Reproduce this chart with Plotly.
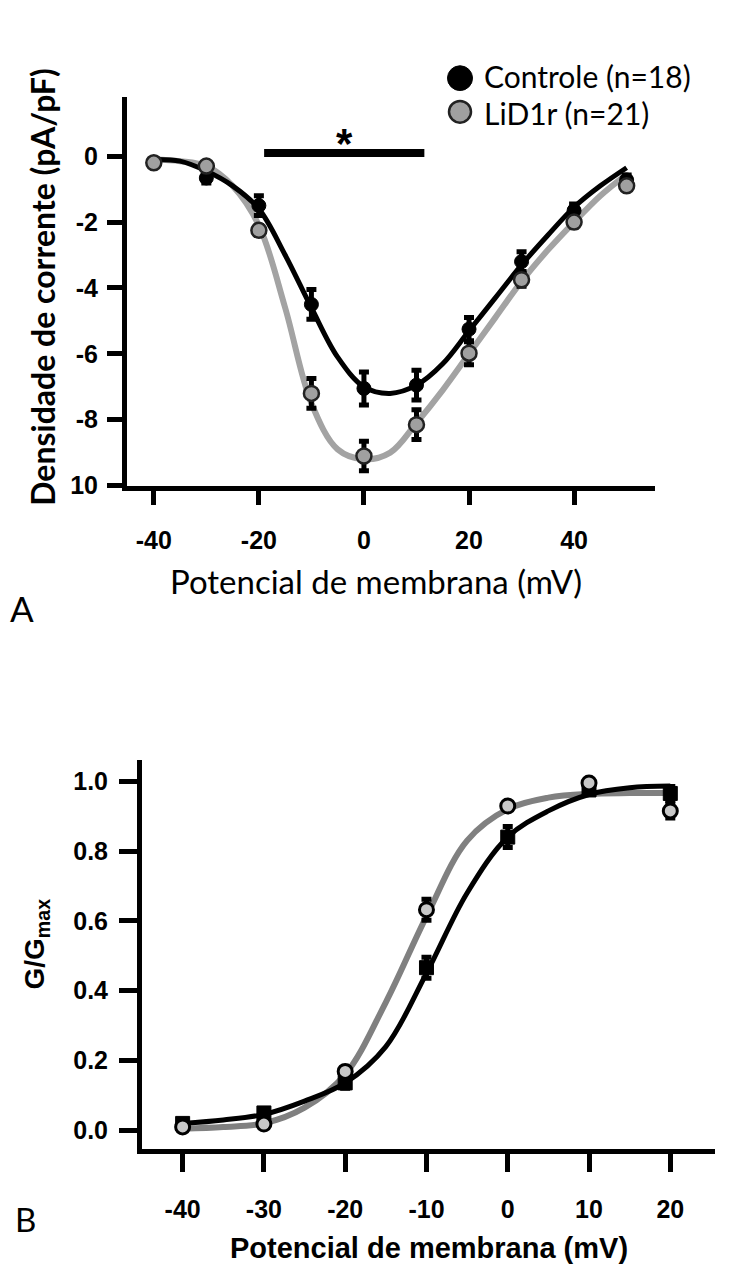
import plotly.graph_objects as go

W, H = 732, 1276

# ---------------- Panel A data (I-V) ----------------
voltage_A = [-40, -30, -20, -10, 0, 10, 20, 30, 40, 50]
ctrl_A = [-0.2, -0.66, -1.5, -4.5, -7.05, -6.95, -5.25, -3.2, -1.65, -0.72]
ctrl_A_err = [0.1, 0.15, 0.3, 0.45, 0.5, 0.45, 0.35, 0.3, 0.2, 0.15]
lid_A = [-0.2, -0.3, -2.25, -7.2, -9.1, -8.15, -5.98, -3.75, -2.0, -0.9]
lid_A_err = [0.05, 0.1, 0.15, 0.45, 0.45, 0.45, 0.35, 0.2, 0.15, 0.1]

fit_v_A = [-40, -35, -30, -25, -20, -15, -10, -5, 0, 5, 10, 15, 20, 25, 30, 35, 40, 45, 50]
ctrl_fit_A = [-0.1, -0.15, -0.45, -0.9, -1.6, -3.0, -4.6, -6.1, -7.0, -7.2, -6.95, -6.3,
              -5.3, -4.3, -3.3, -2.4, -1.55, -0.9, -0.35]
lid_fit_A = [-0.1, -0.15, -0.3, -0.9, -2.1, -4.6, -7.5, -8.9, -9.2, -9.0, -8.1, -7.1,
             -6.0, -4.9, -3.8, -2.85, -2.0, -1.2, -0.55]

xticks_A = [-40, -20, 0, 20, 40]
xticktext_A = ["-40", "-20", "0", "20", "40"]
yticks_A = [0, -2, -4, -6, -8, -10]
yticktext_A = ["0", "-2", "-4", "-6", "-8", "10"]
sig_span = [-19, 11.5]

# ---------------- Panel B data (G/Gmax) ----------------
voltage_B = [-40, -30, -20, -10, 0, 10, 20]
ctrl_B = [0.02, 0.05, 0.136, 0.466, 0.84, 0.975, 0.965]
ctrl_B_err = [0.01, 0.01, 0.015, 0.03, 0.03, 0.01, 0.02]
lid_B = [0.01, 0.018, 0.169, 0.632, 0.929, 0.995, 0.915]
lid_B_err = [0.005, 0.01, 0.01, 0.03, 0.01, 0.01, 0.02]

fit_v_B = [-40, -35, -30, -25, -20, -15, -10, -5, 0, 5, 10, 15, 20]
ctrl_fit_B = [0.02, 0.03, 0.046, 0.084, 0.136, 0.24, 0.45, 0.68, 0.84, 0.915, 0.962, 0.981, 0.986]
lid_fit_B = [0.005, 0.01, 0.02, 0.065, 0.16, 0.367, 0.613, 0.83, 0.92, 0.953, 0.964, 0.966, 0.966]

xticks_B = [-40, -30, -20, -10, 0, 10, 20]
xticktext_B = ["-40", "-30", "-20", "-10", "0", "10", "20"]
yticks_B = [0.0, 0.2, 0.4, 0.6, 0.8, 1.0]
yticktext_B = ["0.0", "0.2", "0.4", "0.6", "0.8", "1.0"]


def px(x):
    return x / W


def py(y):
    return 1 - y / H


CAL = "Lato"
ARIALB = dict(family="Liberation Sans", size=25, color="black", weight=700)

fig = go.Figure()

# ---- Panel A traces ----
fig.add_trace(go.Scatter(x=fit_v_A, y=lid_fit_A, mode="lines", line=dict(color="#a3a3a3", width=6, shape="spline"),
                         xaxis="x", yaxis="y", hoverinfo="skip"))
fig.add_trace(go.Scatter(x=fit_v_A, y=ctrl_fit_A, mode="lines", line=dict(color="black", width=5, shape="spline"),
                         xaxis="x", yaxis="y", hoverinfo="skip"))
fig.add_trace(go.Scatter(x=voltage_A, y=ctrl_A, mode="markers",
                         marker=dict(color="black", size=14, line=dict(color="black", width=1)),
                         error_y=dict(type="data", array=ctrl_A_err, color="black", thickness=5, width=5),
                         xaxis="x", yaxis="y"))
fig.add_trace(go.Scatter(x=voltage_A, y=lid_A, mode="markers",
                         marker=dict(color="#a0a0a0", size=15, line=dict(color="#222", width=2.5)),
                         error_y=dict(type="data", array=lid_A_err, color="black", thickness=5, width=5),
                         xaxis="x", yaxis="y"))

# ---- Panel B traces ----
fig.add_trace(go.Scatter(x=fit_v_B, y=lid_fit_B, mode="lines", line=dict(color="#808080", width=6, shape="spline"),
                         xaxis="x2", yaxis="y2", hoverinfo="skip"))
fig.add_trace(go.Scatter(x=fit_v_B, y=ctrl_fit_B, mode="lines", line=dict(color="black", width=5, shape="spline"),
                         xaxis="x2", yaxis="y2", hoverinfo="skip"))
fig.add_trace(go.Scatter(x=voltage_B, y=ctrl_B, mode="markers",
                         marker=dict(color="black", size=14, symbol="square", line=dict(color="black", width=1)),
                         error_y=dict(type="data", array=ctrl_B_err, color="black", thickness=5, width=5),
                         xaxis="x2", yaxis="y2"))
fig.add_trace(go.Scatter(x=voltage_B, y=lid_B, mode="markers",
                         marker=dict(color="#c8c8c8", size=14, line=dict(color="black", width=3)),
                         error_y=dict(type="data", array=lid_B_err, color="black", thickness=5, width=5),
                         xaxis="x2", yaxis="y2"))

axis_common = dict(showgrid=False, zeroline=False, showline=True, linecolor="black",
                   ticks="outside", tickcolor="black", tickfont=ARIALB, fixedrange=True)

fig.update_layout(
    width=W, height=H, autosize=False,
    margin=dict(l=0, r=0, t=0, b=0),
    paper_bgcolor="white", plot_bgcolor="white",
    showlegend=False,
    xaxis=dict(domain=[px(127), px(655)], range=[-45.1, 55.4], anchor="y",
               tickvals=xticks_A, ticktext=xticktext_A, ticklabelstandoff=14,
               linewidth=5, tickwidth=5, ticklen=14, **axis_common),
    yaxis=dict(domain=[py(491), py(98)], range=[-10, 1.8], anchor="x",
               tickvals=yticks_A, ticktext=yticktext_A, ticklabelstandoff=4,
               linewidth=5, tickwidth=5, ticklen=15, **axis_common),
    xaxis2=dict(domain=[px(142), px(715)], range=[-45, 25.5], anchor="y2",
                tickvals=xticks_B, ticktext=xticktext_B, ticklabelstandoff=16,
                linewidth=5, tickwidth=5, ticklen=18, **axis_common),
    yaxis2=dict(domain=[py(1162), py(768)], range=[-0.054, 1.062], anchor="x2",
                tickvals=yticks_B, ticktext=yticktext_B, ticklabelstandoff=6,
                linewidth=5, tickwidth=5, ticklen=18, **axis_common),
)

# significance bar + asterisk (panel A)
fig.add_shape(type="line", xref="x", yref="y", x0=sig_span[0], x1=sig_span[1], y0=0.1, y1=0.1,
              line=dict(color="black", width=8))

ann = []
ann.append(dict(text="*", x=(sig_span[0] + sig_span[1]) / 2, y=0.8, xref="x", yref="y",
                showarrow=False, font=dict(family="Liberation Sans", size=42, color="black", weight=700),
                xanchor="center", yanchor="middle", yshift=-14))

# legend (panel A)
fig.add_shape(type="circle", xref="paper", yref="paper",
              x0=px(447.5), x1=px(472.5), y0=py(91.5), y1=py(66.5),
              fillcolor="black", line=dict(color="black", width=1))
fig.add_shape(type="circle", xref="paper", yref="paper",
              x0=px(449), x1=px(471), y0=py(124), y1=py(102),
              fillcolor="#a0a0a0", line=dict(color="#222", width=2.5))
ann.append(dict(text="Controle (n=18)", x=px(482), y=py(77), xref="paper", yref="paper",
                showarrow=False, xanchor="left", yanchor="middle",
                font=dict(family=CAL, size=30, color="black")))
ann.append(dict(text="LiD1r (n=21)", x=px(482), y=py(114), xref="paper", yref="paper",
                showarrow=False, xanchor="left", yanchor="middle",
                font=dict(family=CAL, size=30, color="black")))

# axis titles A
ann.append(dict(text="Densidade de corrente (pA/pF)", x=px(43), y=py(290), xref="paper", yref="paper",
                showarrow=False, textangle=-90, xanchor="center", yanchor="middle",
                font=dict(family=CAL, size=32, color="black", weight=700)))
ann.append(dict(text="Potencial de membrana (mV)", x=px(376), y=py(587), xref="paper", yref="paper",
                showarrow=False, xanchor="center", yanchor="middle",
                font=dict(family=CAL, size=33, color="black")))
ann.append(dict(text="A", x=px(22), y=py(615), xref="paper", yref="paper",
                showarrow=False, xanchor="center", yanchor="middle",
                font=dict(family=CAL, size=35, color="black")))

# axis titles B
ann.append(dict(text="G/G<sub>max</sub>", x=px(37), y=py(955), xref="paper", yref="paper",
                showarrow=False, textangle=-90, xanchor="center", yanchor="middle",
                font=dict(family="Liberation Sans", size=28, color="black", weight=700)))
ann.append(dict(text="Potencial de membrana (mV)", x=px(429), y=py(1262), xref="paper", yref="paper",
                showarrow=False, xanchor="center", yanchor="middle",
                font=dict(family="Liberation Sans", size=29, color="black", weight=700)))
ann.append(dict(text="B", x=px(25), y=py(1233), xref="paper", yref="paper",
                showarrow=False, xanchor="center", yanchor="middle",
                font=dict(family=CAL, size=33, color="black")))

fig.update_layout(annotations=ann)

fig.write_html("out.html")
